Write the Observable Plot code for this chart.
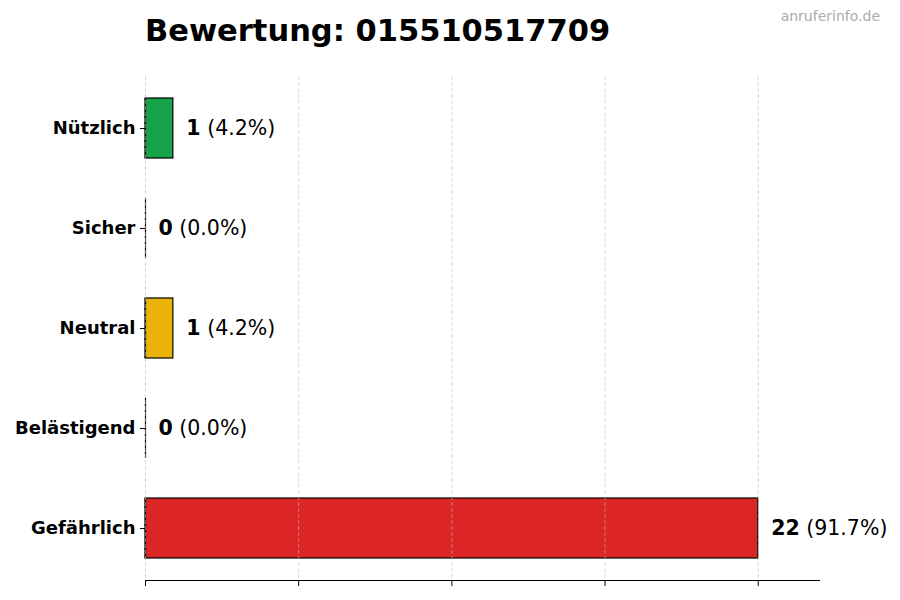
<!DOCTYPE html>
<html>
<head>
<meta charset="utf-8">
<script src="https://cdn.jsdelivr.net/npm/d3@7"></script>
<script src="https://cdn.jsdelivr.net/npm/@observablehq/plot@0.6"></script>
<style>
  body { margin: 0; background: #fff; font-family: "DejaVu Sans", sans-serif; }
  #wrap { position: relative; width: 900px; height: 600px; }
  #title { position: absolute; left: 145px; top: 13px; font-size: 30.5px; font-weight: bold; color: #000; white-space: nowrap; }
  #mark { position: absolute; right: 20px; top: 8px; font-size: 14px; color: #aaaaaa; }
  #chart { position: absolute; left: 0; top: 0; }
</style>
</head>
<body>
<div id="wrap">
  <div id="chart"></div>
  <div id="title">Bewertung: 015510517709</div>
  <div id="mark">anruferinfo.de</div>
</div>
<script>
const categories = ["Nützlich", "Sicher", "Neutral", "Belästigend", "Gefährlich"];
const counts = [1, 0, 1, 0, 22];
const percents = ["4.2%", "0.0%", "4.2%", "0.0%", "91.7%"];
const colors = ["#16a34a", "#9ca3af", "#eab308", "#f97316", "#dc2626"];
const xTicks = [0, 5.5, 11, 16.5, 22];
const xMax = 24.2;

const data = categories.map((c, i) => ({cat: c, n: counts[i], pct: percents[i], color: colors[i]}));

const plot = Plot.plot({
  width: 900,
  height: 600,
  marginLeft: 145,
  marginRight: 81,
  marginTop: 76,
  marginBottom: 20,
  style: {fontFamily: "DejaVu Sans, sans-serif", color: "#000", background: "#fff"},
  x: {domain: [0, xMax], ticks: xTicks, label: null},
  y: {domain: categories, padding: 0.4, paddingOuter: 0.2, label: null},
  marks: [
    Plot.barX(data.filter(d => d.n > 0), {x: "n", y: "cat", fill: "color", stroke: "#000", strokeWidth: 1.2}),
    Plot.tickX(data, {x: 0, y: "cat", stroke: "#000", strokeWidth: 1.2}),
    Plot.gridX(xTicks, {stroke: "#bbbbbb", strokeOpacity: 0.55, strokeWidth: 1, strokeDasharray: "4,2"}),
    Plot.frame({anchor: "bottom", stroke: "#000", strokeWidth: 1}),
    Plot.axisX(xTicks, {tickSize: 6, tickFormat: () => "", stroke: "#000", strokeWidth: 1}),
    Plot.axisY({tickSize: 5, tickPadding: 5, fontSize: 18, fontWeight: "bold", fill: "#000", stroke: "#000", label: null}),
    Plot.text(data, {x: "n", y: "cat", text: d => `${d.n} (${d.pct})`, textAnchor: "start", dx: 13, fontSize: 20.5, fill: "#000", className: "vlabel"})
  ]
});

// style value labels: number bold, percentage regular
d3.select(plot).selectAll(".vlabel text").each(function() {
  const t = d3.select(this);
  const s = t.text();
  const i = s.indexOf(" ");
  t.text(null);
  t.append("tspan").attr("font-weight", "bold").text(s.slice(0, i));
  t.append("tspan").text(s.slice(i));
});

document.getElementById("chart").appendChild(plot);
</script>
</body>
</html>
